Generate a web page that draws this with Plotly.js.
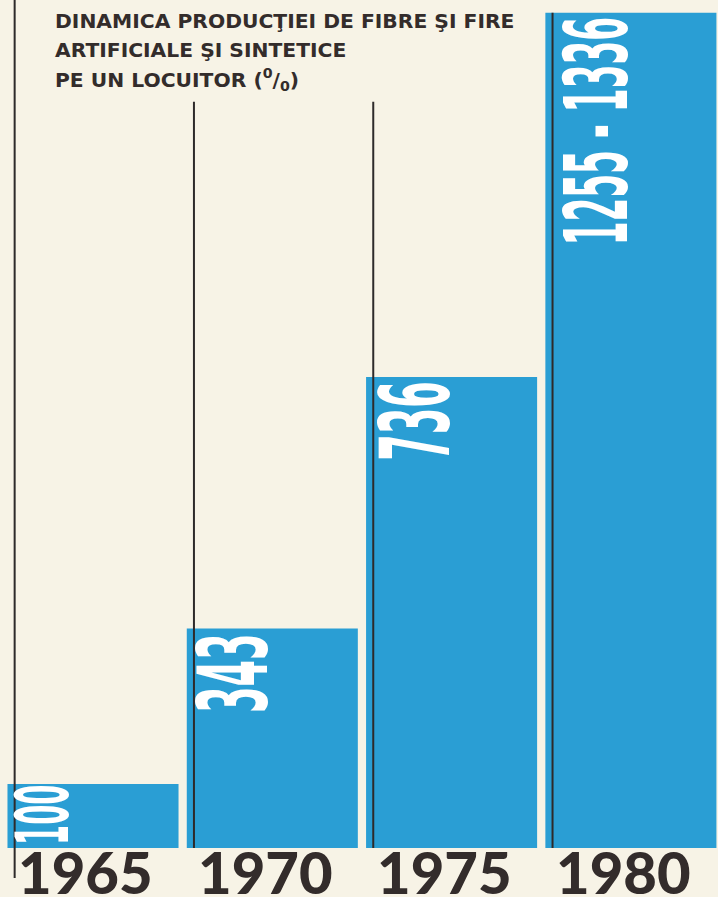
<!DOCTYPE html>
<html>
<head>
<meta charset="utf-8">
<script src="https://cdn.plot.ly/plotly-3.0.1.min.js"></script>
<style>
  html, body { margin: 0; padding: 0; background: #f7f3e6; }
  #chart { width: 718px; height: 897px; }
</style>
</head>
<body>
<div id="chart"></div>
<script>
// ---- data ----
const years = ['1965', '1970', '1975', '1980'];
const values = [100, 343, 736, 1305];
const valueLabels = ['100', '343', '736', '1255 - 1336'];
const titleLines = [
  'DINAMICA PRODUCŢIEI DE FIBRE ŞI FIRE',
  'ARTIFICIALE ŞI SINTETICE',
  'PE UN LOCUITOR (<sup>0</sup>/<sub>0</sub>)'
];

// ---- style ----
const BG = '#f7f3e6';
const BLUE = '#2a9ed4';
const INK = '#332c2b';
const BAR_W = 0.954;
const X_RANGE = [-0.5187, 3.4858];
const Y_RANGE = [-76.6, 1325];
const LABEL_KX = 1.7;    // stretch of glyph height (horizontal after rotation)
const LABEL_KY = 0.745;  // squeeze along the reading direction
const LABEL_SIZES = [43, 57, 57, 51];
const LABEL_XSHIFT = [-10, -13, -10, -1];

const xs = years.map((_, i) => i);

const trace = {
  type: 'bar',
  x: xs,
  y: values,
  width: BAR_W,
  marker: { color: BLUE, line: { width: 0 } },
  hoverinfo: 'skip'
};

const shapes = xs.map((x, i) => {
  const lx = x - BAR_W / 2 + 0.04;
  let y0 = 0, y1;
  if (i === 0) { y0 = -47; y1 = Y_RANGE[1]; }
  else if (i === xs.length - 1) { y1 = values[i]; }
  else { y1 = 1166; }
  return {
    type: 'line', xref: 'x', yref: 'y', layer: 'above',
    x0: lx, x1: lx, y0: y0, y1: y1,
    line: { color: '#2e2a2a', width: 2 }
  };
});

const annotations = [];
// value labels (vertical, inside bars)
xs.forEach((x, i) => {
  annotations.push({
    xref: 'x', yref: 'y',
    x: x - BAR_W / 2, y: values[i],
    xanchor: 'left', yanchor: 'top',
    xshift: LABEL_XSHIFT[i], yshift: i === 0 ? 1 : -3,
    textangle: -90,
    text: valueLabels[i],
    showarrow: false,
    font: {
      family: '"Liberation Sans Narrow", "DejaVu Sans Condensed", sans-serif',
      size: LABEL_SIZES[i],
      color: '#ffffff',
      weight: 700
    }
  });
});
// year labels
xs.forEach((x, i) => {
  annotations.push({
    xref: 'x', yref: 'y',
    x: x - BAR_W / 2 + 0.05, y: 0,
    xanchor: 'left', yanchor: 'top',
    yshift: 13,
    text: years[i],
    showarrow: false,
    font: { family: 'Lato, Roboto, "Liberation Sans", sans-serif', size: 58, color: INK, weight: 900 }
  });
});
// title lines
const titleY = [21, 50, 80];
titleLines.forEach((t, i) => {
  annotations.push({
    xref: 'paper', yref: 'paper',
    x: 53 / 718, y: 1 - titleY[i] / 897,
    xanchor: 'left', yanchor: 'middle',
    text: t, showarrow: false, align: 'left',
    font: { family: '"DejaVu Sans", sans-serif', size: 20.3, color: INK, weight: 700 }
  });
});

const layout = {
  width: 718, height: 897,
  margin: { l: 0, r: 0, t: 0, b: 0, pad: 0 },
  paper_bgcolor: BG, plot_bgcolor: BG,
  showlegend: false,
  xaxis: { range: X_RANGE, visible: false, fixedrange: true },
  yaxis: { range: Y_RANGE, visible: false, fixedrange: true },
  shapes: shapes,
  annotations: annotations
};

const gd = document.getElementById('chart');
Plotly.newPlot(gd, [trace], layout, { staticPlot: true, displayModeBar: false }).then(() => {
  // condensed display numerals: stretch glyph height, squeeze length, anchored at top-left
  gd.querySelectorAll('g.annotation').forEach(g => {
    const idx = +g.getAttribute('data-index');
    if (idx < valueLabels.length) {
      const bb = g.getBBox();
      const L = bb.x, T = bb.y;
      g.setAttribute('transform',
        `translate(${L},${T}) scale(${LABEL_KX},${LABEL_KY}) translate(${-L},${-T})`);
    }
  });
});
</script>
</body>
</html>
